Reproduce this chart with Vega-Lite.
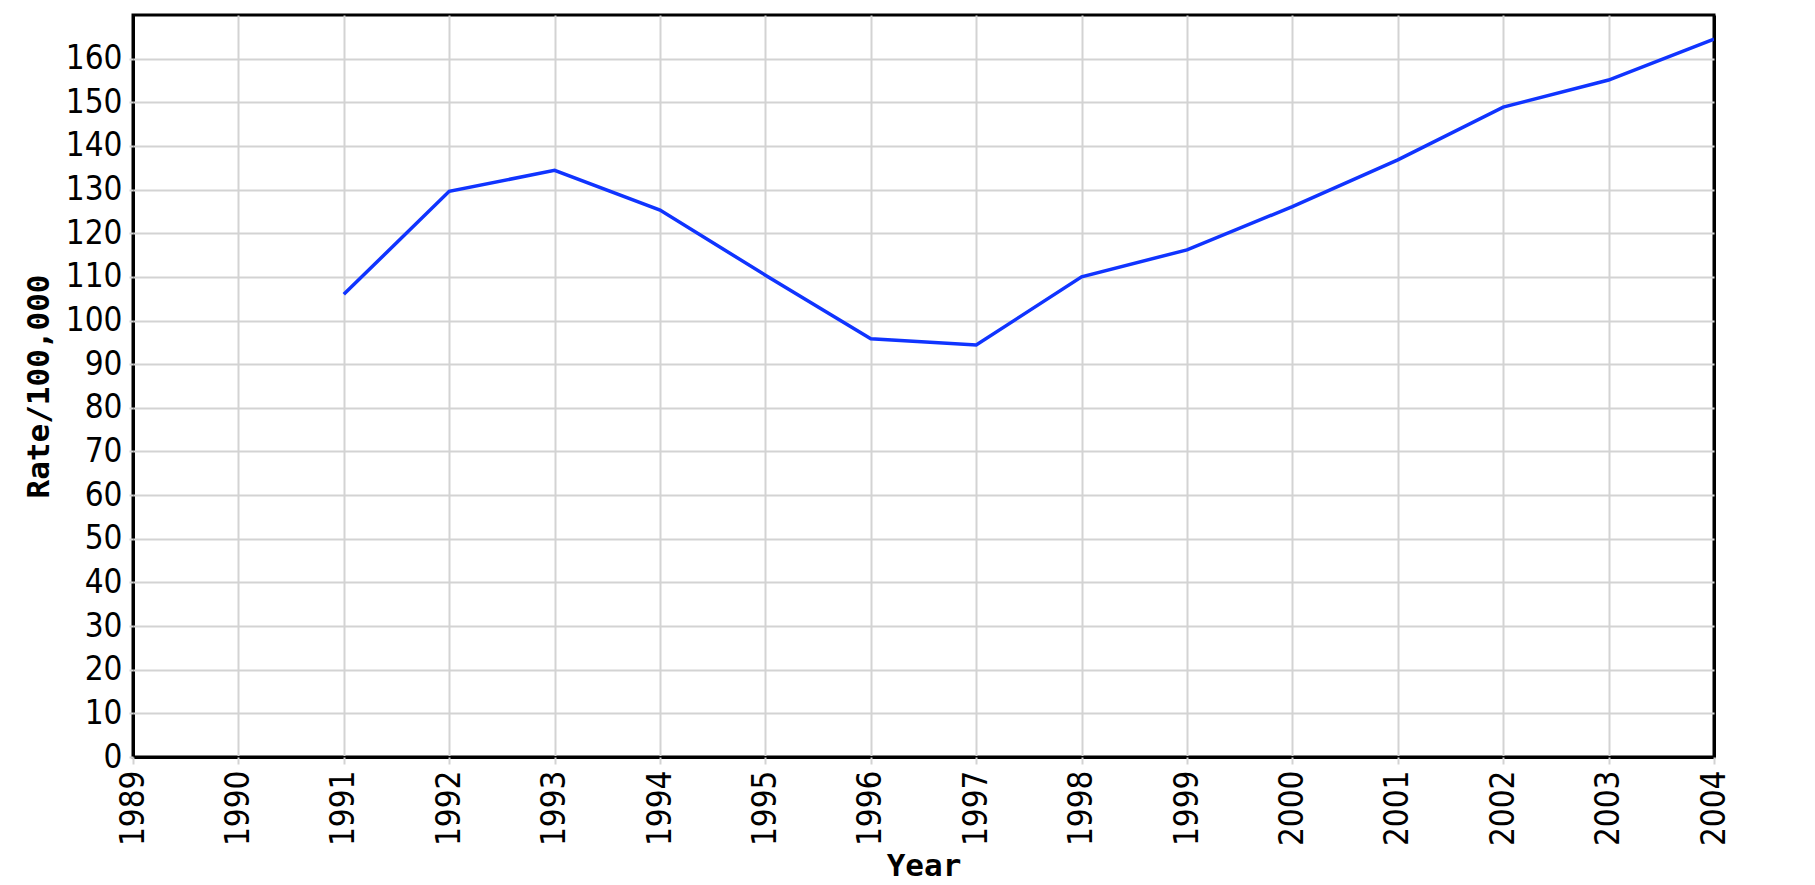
{
  "$schema": "https://vega.github.io/schema/vega-lite/v6.json",
  "autosize": {"type": "none"},
  "padding": {"left": 133, "top": 15, "right": 101, "bottom": 128},
  "width": 1581,
  "height": 742,
  "background": "white",
  "config": {
    "view": {"stroke": "black", "strokeWidth": 3},
    "axis": {
      "domain": false,
      "gridOpacity": 1,
      "tickColor": "#d3d3d3",
      "tickWidth": 2,
      "labelFont": "DejaVu Sans Condensed, DejaVu Sans Mono",
      "labelFontSize": 33,
      "labelColor": "black",
      "titleFont": "DejaVu Sans Mono",
      "titleFontWeight": "bold",
      "titleFontSize": 31,
      "titleColor": "black"
    }
  },
  "data": {
    "values": [
      {"year": 1991, "rate": 106.0},
      {"year": 1992, "rate": 129.6},
      {"year": 1993, "rate": 134.4},
      {"year": 1994, "rate": 125.3},
      {"year": 1995, "rate": 110.4},
      {"year": 1996, "rate": 95.8},
      {"year": 1997, "rate": 94.4},
      {"year": 1998, "rate": 110.0},
      {"year": 1999, "rate": 116.2},
      {"year": 2000, "rate": 126.1},
      {"year": 2001, "rate": 136.8},
      {"year": 2002, "rate": 148.9},
      {"year": 2003, "rate": 155.1},
      {"year": 2004, "rate": 164.5}
    ]
  },
  "mark": {"type": "line", "color": "#1034ff", "strokeWidth": 3.5, "interpolate": "linear", "clip": true},
  "encoding": {
    "x": {
      "field": "year",
      "type": "quantitative",
      "title": "Year",
      "scale": {"domain": [1989, 2004], "nice": false, "zero": false},
      "axis": {
        "values": [1989, 1990, 1991, 1992, 1993, 1994, 1995, 1996, 1997, 1998, 1999, 2000, 2001, 2002, 2003, 2004],
        "format": "d",
        "labelAngle": -90,
        "labelAlign": "right",
        "labelBaseline": "middle",
        "tickSize": 7,
        "labelPadding": 6,
        "titlePadding": 6,
        "gridColor": {"condition": {"test": "datum.value === 1989 || datum.value === 2004", "value": "black"}, "value": "#d3d3d3"},
        "gridWidth": {"condition": {"test": "datum.value === 1989 || datum.value === 2004", "value": 3}, "value": 2}
      }
    },
    "y": {
      "field": "rate",
      "type": "quantitative",
      "title": "Rate/100,000",
      "scale": {"domain": [0, 170], "nice": false},
      "axis": {
        "values": [0, 10, 20, 30, 40, 50, 60, 70, 80, 90, 100, 110, 120, 130, 140, 150, 160],
        "tickSize": 4,
        "labelPadding": 7,
        "titlePadding": 10,
        "gridColor": {"condition": {"test": "datum.value === 0", "value": "black"}, "value": "#d3d3d3"},
        "gridWidth": {"condition": {"test": "datum.value === 0", "value": 3}, "value": 2}
      }
    }
  }
}
